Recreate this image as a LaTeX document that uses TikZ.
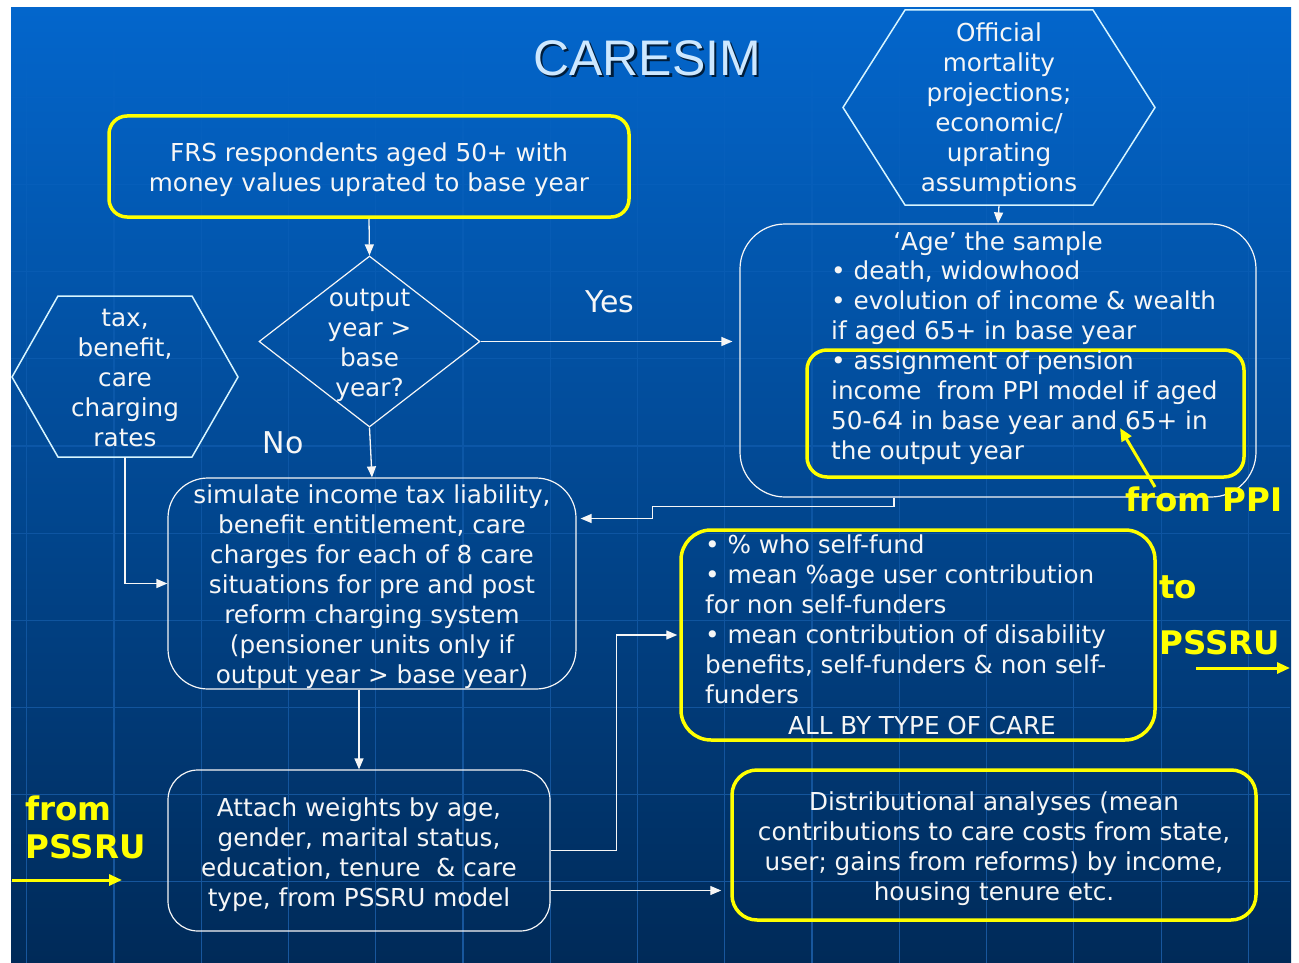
\documentclass[tikz,border=0pt]{standalone}
\usepackage{fontspec}
\setmainfont{DejaVu Sans}
\newfontfamily\titlefont{Liberation Sans}
\usepackage{color}
\definecolor{bgtop}{RGB}{3,102,204}
\definecolor{bgmid}{RGB}{0,82,166}
\definecolor{bgbot}{RGB}{0,42,88}
\definecolor{gridblue}{RGB}{45,125,215}
\definecolor{myyellow}{RGB}{255,255,0}
\definecolor{titleblue}{RGB}{205,232,255}
\definecolor{hexwhite}{RGB}{215,245,255}
\definecolor{txtwhite}{RGB}{246,246,246}
\usetikzlibrary{arrows.meta,positioning,shapes.geometric,fadings}
\tikzstyle{box}=[draw=txtwhite,line width=1.2pt,rounded corners=30pt,inner sep=0pt]
\tikzstyle{ybox}=[draw=myyellow,line width=3.5pt,rounded corners=18pt,inner sep=0pt]
\tikzstyle{txt}=[text=txtwhite,font=\fontsize{24.7}{30}\selectfont,align=center,inner sep=0pt]
\tikzstyle{hexline}=[draw=hexwhite,line width=1.5pt,line join=miter]
\tikzstyle{link}=[draw=txtwhite,line width=1.3pt,-{Triangle[length=11pt,width=9pt]}]
\tikzstyle{ylink}=[draw=myyellow,line width=3pt,-{Triangle[length=13pt,width=11pt]}]
\tikzstyle{ylabel}=[text=myyellow,font=\fontsize{32.5}{38}\selectfont\bfseries,align=left,inner sep=0pt]

\begin{document}
\begin{tikzpicture}[x=1pt,y=-1pt]
\useasboundingbox (0,0) rectangle (1299,963);
% slide background
\fill[white] (0,0) rectangle (1299,963);
\shade[top color=bgtop, middle color=bgmid, bottom color=bgbot] (11,8) rectangle (1291,963);
\begin{scope}[shift={(27pt,-8pt)}]
\clip (-16,0) rectangle (1264,955);
\draw[gridblue, opacity=0.55, line width=1.2pt, step=87.3pt, path fading=north] (-16,0) grid (1264,955);
\end{scope}

% title
\node[text=black, opacity=0.7, font=\titlefont\fontsize{50}{55}\selectfont] (titleshadow) at (649.5,60.5) {CARESIM};
\node[text=titleblue, font=\titlefont\fontsize{50}{55}\selectfont] (title) at (647,58) {CARESIM};

% input boxes
\node[ybox, minimum width=520pt, minimum height=101pt] (frs) at (369,166.5) {};
\node[txt] (frstext) at (369,170) {FRS respondents aged 50+ with\\money values uprated to base year};

\draw[hexline] (843,107.5) -- (905,10) -- (1093,10) -- (1155,107.5) -- (1093,205) -- (905,205) -- cycle;
\node[txt] (offic) at (999,110)
  {Official\\mortality\\projections;\\economic/\\uprating\\assumptions};
\coordinate (officbot) at (999,205);

\draw[hexline] (12,377) -- (58,296) -- (192,296) -- (238,377) -- (192,457) -- (58,457) -- cycle;
\node[txt] (tax) at (125,378.5) {tax,\\benefit,\\care\\charging\\rates};
\coordinate (taxbot) at (125,457);

% decision
\node[diamond, draw=txtwhite, line width=1.2pt, minimum width=221pt, minimum height=171pt, inner sep=0pt] (dec) at (369.5,341.5) {};
\node[txt] (dectext) at (369.5,345.5) {output\\year >\\base\\year?};
\node[txt, font=\fontsize{30}{36}\selectfont] (yes) at (610,302) {Yes};
\node[txt, font=\fontsize{30}{36}\selectfont] (no) at (283,443) {No};

% ageing the sample
\node[box, rounded corners=45pt, minimum width=516pt, minimum height=273pt] (agebox) at (998,360.5) {};
\node[ybox, rounded corners=20pt, minimum width=437pt, minimum height=127pt] (ppibox) at (1025.5,413.5) {};
\node[txt] (agetitle) at (998,244) {‘Age’ the sample};
\node[txt, align=left, anchor=base west] (agetext) at (831,459)
  {• death, widowhood\\• evolution of income \& wealth\\if aged 65+ in base year\\• assignment of pension\\income~ from PPI model if aged\\50-64 in base year and 65+ in\\the output year};

% simulation
\node[box, rounded corners=40pt, minimum width=408pt, minimum height=211pt] (sim) at (372,583.5) {};
\node[txt] (simtext) at (372,586.5)
  {simulate income tax liability,\\benefit entitlement, care\\charges for each of 8 care\\situations for pre and post\\reform charging system\\(pensioner units only if\\output year > base year)};

\node[box, minimum width=382pt, minimum height=161pt] (attach) at (359,850.5) {};
\node[txt] (attachtext) at (359,855)
  {Attach weights by age,\\gender, marital status,\\education, tenure~ \& care\\type, from PSSRU model};

% outputs
\node[ybox, rounded corners=30pt, minimum width=474pt, minimum height=210pt] (pct) at (918,635) {};
\node[txt, align=left, anchor=base west] (pcttext) at (705,703)
  {• \% who self-fund\\• mean \%age user contribution\\for non self-funders\\• mean contribution of disability\\benefits, self-funders \& non self-\\funders};
\node[txt] (alltype) at (922,726) {ALL BY TYPE OF CARE};

\node[ybox, rounded corners=25pt, minimum width=524pt, minimum height=150pt] (distr) at (994,845) {};
\node[txt] (distrtext) at (994,849)
  {Distributional analyses (mean\\contributions to care costs from state,\\user; gains from reforms) by income,\\housing tenure etc.};

% outside models
\node[ylabel, anchor=base west] (fromppi) at (1125,511) {from PPI};
\node[ylabel, anchor=base west, font=\fontsize{32.5}{56}\selectfont\bfseries] (topssru) at (1159,654) {to\\PSSRU};
\node[ylabel, anchor=base west] (frompssru) at (25,858) {from\\PSSRU};
\coordinate (ppistart) at (1155,487);
\coordinate (ppitip) at (1120,428);
\coordinate (pssrustart) at (1196,668);
\coordinate (pssruout) at (1290,668);
\coordinate (pssruin) at (12,880);
\coordinate (pssruend) at (122,880);

% connectors
\draw[link] (frs.south) -- (dec.north);
\draw[link] (officbot) -- (agebox.north);
\draw[link, shorten >=7pt] (dec.east) -- (dec.east -| agebox.west);
\draw[link] (dec.south) -- (sim.north);
\draw[link] (taxbot) |- (sim.west);
\draw[link] ([xshift=-104pt]agebox.south) -- ++(0,-9pt) -| ([xshift=76pt,yshift=65pt]sim.east) -- ([xshift=4pt,yshift=65pt]sim.east);
\draw[link] (sim.south -| attach.north) -- (attach.north);
\draw[link] (attach.east) -- ++(66pt,0) |- ([xshift=-2pt]pct.west);
\draw[link, shorten >=9pt] ([yshift=-40pt]attach.east) -- ([yshift=-40pt]attach.east -| distr.west);
\draw[ylink] (ppistart) -- (ppitip);
\draw[ylink] (pssrustart) -- (pssruout);
\draw[ylink] (pssruin) -- (pssruend);
\end{tikzpicture}
\end{document}
